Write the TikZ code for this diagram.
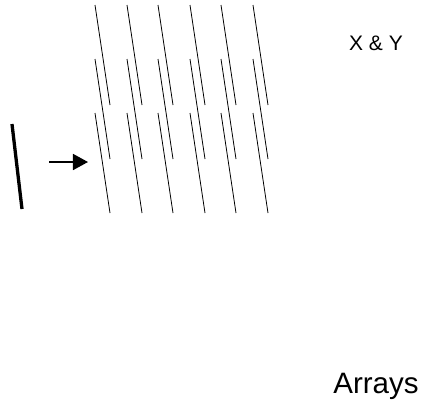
\documentclass[tikz,border=0pt]{standalone}
\usepackage{fontspec}
\setmainfont{Liberation Sans}
\usetikzlibrary{arrows.meta}
\begin{document}
\begin{tikzpicture}[x=1bp,y=-1bp,
  hatch/.style={line width=0.8bp, black},
  bar/.style={line width=3.3bp, black},
  pointer/.style={line width=1.6bp, -{Triangle[length=15bp,width=16bp]}},
  label/.style={inner sep=0pt, anchor=base}]
\useasboundingbox (0,0) rectangle (424,404);
% thin slanted lines: 6 columns x 3 rows
\foreach \cx in {95,127,158,190,221,253}{
  \foreach \ry in {5,59,113}{
    \draw[hatch] (\cx,\ry) -- ++(15,100);
  }
}
% thick bar
\coordinate (bartop) at (12,124);
\coordinate (barbot) at (22,209);
\draw[bar] (bartop) -- (barbot);
% arrow
\coordinate (arrS) at (49,162);
\coordinate (arrE) at (88,162);
\draw[pointer] (arrS) -- (arrE);
% labels
\node[label, font=\fontsize{21bp}{25bp}\selectfont] (xy) at (376,50) {X \& Y};
\node[label, font=\fontsize{29.5bp}{35bp}\selectfont] (arr) at (376,393) {Arrays};
\end{tikzpicture}
\end{document}
